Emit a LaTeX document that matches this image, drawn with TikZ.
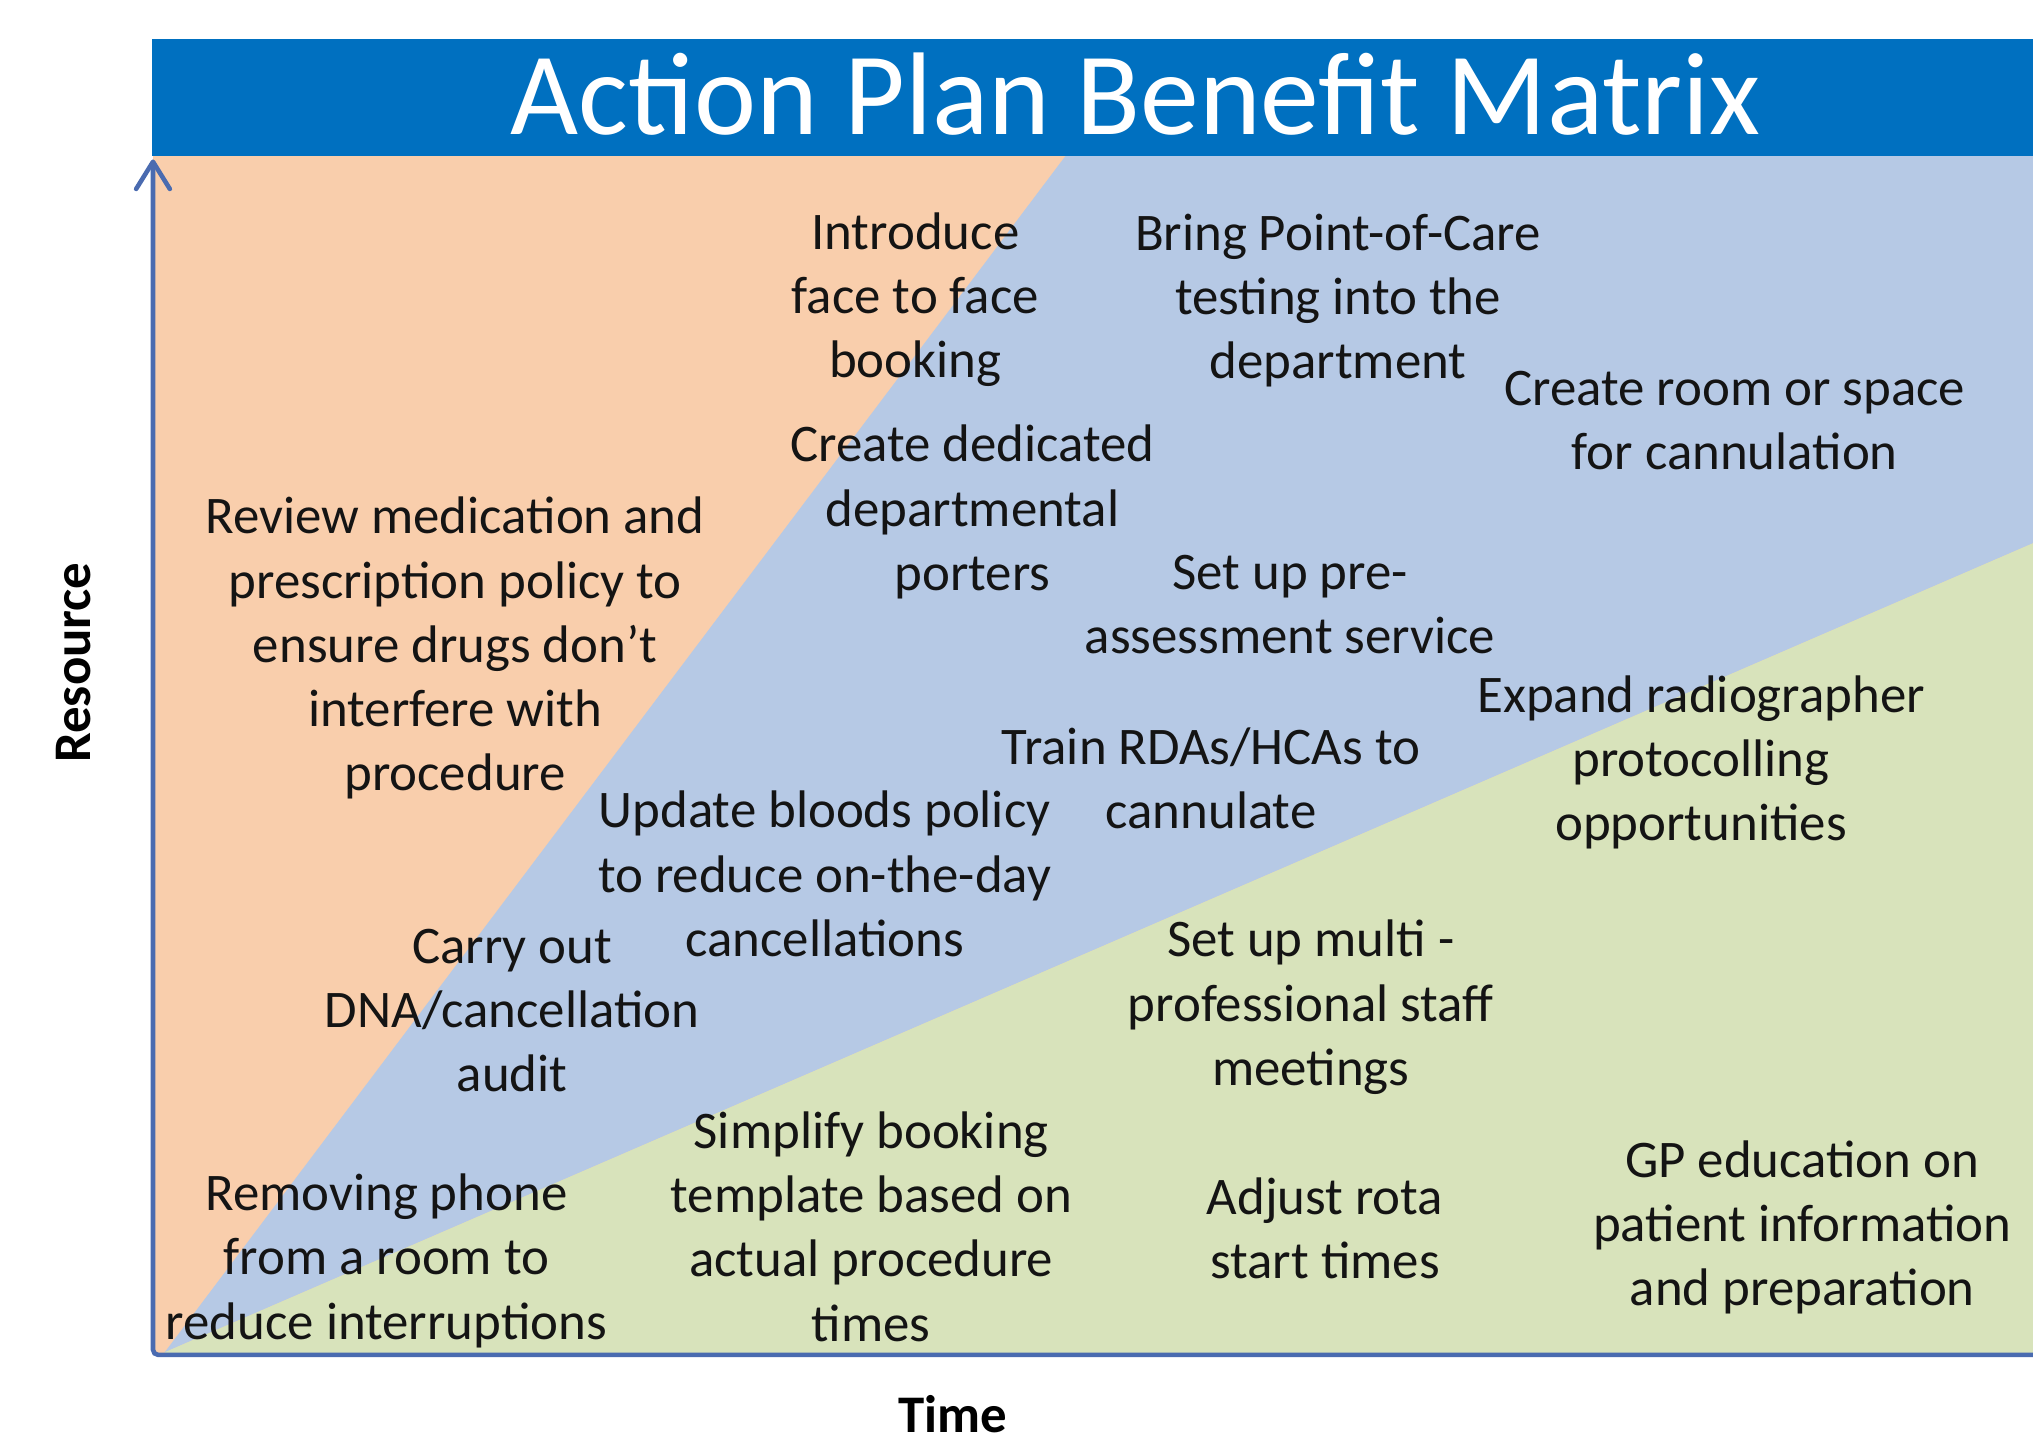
\documentclass[tikz,border=0pt]{standalone}
\usepackage{fontspec}
\setmainfont{Carlito}
\usetikzlibrary{arrows.meta}

\definecolor{barblue}{HTML}{0070C0}
\definecolor{zoneorange}{HTML}{F9CEAC}
\definecolor{zoneblue}{HTML}{B6C9E5}
\definecolor{zonegreen}{HTML}{D8E3BB}
\definecolor{axisblue}{HTML}{4A6BB0}
\definecolor{inkdark}{HTML}{141414}

\begin{document}
\begin{tikzpicture}[x=0.1mm, y=-0.1mm,
  item/.style={align=center, text=inkdark, inner sep=0pt,
               font=\fontsize{11.6}{14.1}\selectfont},
  axislabel/.style={text=black, inner sep=0pt,
               font=\fontsize{11.6}{14.1}\selectfont\bfseries},
  axisline/.style={draw=axisblue, line width=1pt, line cap=round,
               rounded corners=0.4mm},
  titletext/.style={text=white, inner sep=0pt,
               font=\fontsize{25.8}{30}\selectfont}]

\useasboundingbox (0,0) rectangle (1568,1114);

% background zones of the matrix
\fill[zoneorange] (118,120) rectangle (1568,1045);
\fill[zoneblue] (822,120) -- (1568,120) -- (1568,419) -- (127,1043) -- cycle;
\fill[zonegreen] (127,1043) -- (1568,419) -- (1568,1045) -- (127,1045) -- cycle;

% title banner
\fill[barblue] (117,30) rectangle (1568,120);
\node[titletext, anchor=base] (title) at (876,104) {Action Plan Benefit Matrix};

% axes
\coordinate (origin) at (118,1045);
\coordinate (xend) at (1568,1045);
\coordinate (ytop) at (118,123);
\draw[axisline, -{Straight Barb[length=2.1mm,width=2.6mm,round]}]
  (xend) -- (origin) -- (ytop);

\node[axislabel, rotate=90] (resource) at (57,511) {Resource};
\node[axislabel] (time) at (735,1091) {Time};

% action items
\node[item] (intro) at (706,231) {Introduce\\face to face\\booking};
\node[item] (poc) at (1032,232) {Bring Point-of-Care\\testing into the\\department};
\node[item] (room) at (1338,324.5) {Create room or space\\for cannulation};
\node[item] (porters) at (750,395) {Create dedicated\\departmental\\porters};
\node[item] (review) at (351,500) {Review medication and\\prescription policy to\\ensure drugs don’t\\interfere with\\procedure};
\node[item] (preassess) at (995,466) {Set up pre-\\assessment service};
\node[item] (expand) at (1312,588) {Expand radiographer\\protocolling\\opportunities};
\node[item] (train) at (934,600.5) {Train RDAs/HCAs to\\cannulate};
\node[item] (bloods) at (636,674) {Update bloods policy\\to reduce on-the-day\\cancellations};
\node[item] (dna) at (395,779.5) {Carry out\\DNA/cancellation\\audit};
\node[item] (multi) at (1011,777) {Set up multi -\\professional staff\\meetings};
\node[item] (simplify) at (672,946) {Simplify booking\\template based on\\actual procedure\\times};
\node[item] (phone) at (298,972.5) {Removing phone\\from a room to\\reduce interruptions};
\node[item] (rota) at (1022,947.5) {Adjust rota\\start times};
\node[item] (gp) at (1390,946.5) {GP education on\\patient information\\and preparation};

\end{tikzpicture}
\end{document}
